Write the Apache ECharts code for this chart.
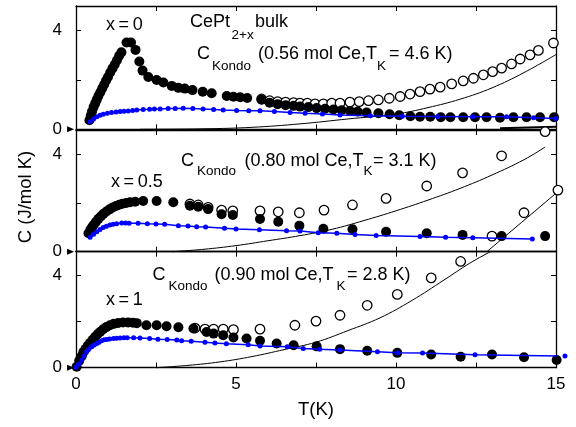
<!DOCTYPE html>
<html><head><meta charset="utf-8">
<script src="https://cdn.jsdelivr.net/npm/echarts@6/dist/echarts.min.js"></script>
<style>html,body{margin:0;padding:0;background:#fff}#c{width:576px;height:427px}</style>
</head><body><div id="c"></div>
<script>
const FONT = '"Liberation Sans", Arial, Helvetica, sans-serif';
const xTickLabels = [0, 5, 10, 15];
const yTickLabels = [0, 4];

// Panel x = 0
const x0Filled = [[0.42,0.37],[0.46,0.55],[0.5,0.72],[0.55,0.9],[0.6,1.05],[0.65,1.2],[0.7,1.35],[0.76,1.5],[0.82,1.66],[0.88,1.82],[0.94,1.98],[1.0,2.12],[1.07,2.3],[1.14,2.47],[1.21,2.63],[1.28,2.8],[1.35,2.98],[1.42,3.12],[1.58,3.52],[1.72,3.52],[1.86,3.22],[1.98,2.75],[2.08,2.38],[2.26,2.12],[2.52,2.0],[2.73,1.9],[2.99,1.76],[3.2,1.68],[3.4,1.65],[3.64,1.59],[3.96,1.52],[4.24,1.46],[4.71,1.35],[4.92,1.32],[5.13,1.3],[5.35,1.27],[5.8,1.2],[6.05,1.08],[6.3,1.02],[6.55,0.98],[6.8,0.95],[7.0,0.92],[7.26,0.9],[7.52,0.86],[7.78,0.83],[8.04,0.8],[8.3,0.77],[8.56,0.74],[8.8,0.72],[9.08,0.68],[9.45,0.65],[9.8,0.61],[10.1,0.57],[10.45,0.53],[10.75,0.51],[11.07,0.51],[11.4,0.49],[11.7,0.49],[12.1,0.49],[12.47,0.49],[12.83,0.49],[13.25,0.47],[13.67,0.49],[14.08,0.49],[14.5,0.49],[14.94,0.49]];
const x0Open = [[5.8,1.23],[6.05,1.16],[6.3,1.12],[6.55,1.1],[6.8,1.08],[7.0,1.06],[7.23,1.06],[7.47,1.03],[7.73,1.03],[7.99,1.06],[8.25,1.06],[8.56,1.1],[8.85,1.12],[9.14,1.16],[9.45,1.19],[9.79,1.26],[10.13,1.33],[10.44,1.43],[10.75,1.53],[11.06,1.63],[11.38,1.71],[11.74,1.84],[12.1,1.96],[12.42,2.07],[12.73,2.21],[13.02,2.34],[13.3,2.48],[13.61,2.65],[13.88,2.85],[14.19,3.02],[14.45,3.2],[14.92,3.5]];
const x0Blue = [[0.44,0.31],[0.55,0.42],[0.65,0.51],[0.75,0.57],[0.85,0.61],[0.98,0.65],[1.11,0.68],[1.25,0.7],[1.38,0.72],[1.5,0.73],[1.63,0.74],[1.77,0.76],[1.9,0.78],[2.1,0.8],[2.3,0.81],[2.45,0.82],[2.63,0.82],[2.88,0.84],[3.1,0.84],[3.35,0.85],[3.65,0.84],[3.97,0.82],[4.3,0.8],[4.6,0.78],[5.02,0.76],[5.4,0.75],[5.75,0.75],[6.2,0.72],[6.69,0.68],[7.16,0.65],[7.7,0.62],[8.25,0.58],[9.2,0.55],[10.2,0.53],[11.3,0.52],[12.4,0.51],[13.46,0.51],[14.3,0.47],[15.0,0.44]];
const x0Phonon = [[2,0],[4,0.02],[5.5,0.08],[7,0.22],[8.5,0.42],[10,0.62],[11,0.88],[12,1.22],[13,1.68],[14,2.3],[15,3.03]];
const x0Tail = [[13.25,0.04],[15,0.1]];

// Panel x = 0.5
const x05Filled = [[0.39,0.76],[0.45,0.9],[0.5,1.0],[0.55,1.1],[0.62,1.22],[0.7,1.35],[0.78,1.46],[0.86,1.56],[0.95,1.65],[1.05,1.74],[1.15,1.82],[1.25,1.88],[1.35,1.93],[1.45,1.97],[1.57,2.0],[1.69,2.03],[1.85,2.05],[2.1,2.08],[2.52,2.08],[3.04,2.03],[3.56,1.89],[3.82,1.85],[4.13,1.75],[4.55,1.54],[4.9,1.51],[5.75,1.34],[6.32,1.23],[6.98,1.07],[7.73,0.94],[8.64,0.92],[9.69,0.82],[10.96,0.76],[12.08,0.69],[13.3,0.64],[14.66,0.64]];
const x05Open = [[3.56,1.96],[3.82,1.92],[4.13,1.82],[4.55,1.71],[4.9,1.68],[5.75,1.68],[6.32,1.64],[6.98,1.6],[7.75,1.71],[8.64,1.92],[9.69,2.19],[10.96,2.7],[12.08,3.24],[13.3,3.94],[14.66,4.93],[13.0,0.64],[14.0,1.6],[15.06,2.53]];
const x05Blue = [[0.44,0.59],[0.55,0.72],[0.65,0.82],[0.75,0.91],[0.85,0.99],[0.95,1.05],[1.06,1.1],[1.16,1.13],[1.27,1.15],[1.43,1.18],[1.55,1.18],[1.66,1.17],[1.94,1.17],[2.23,1.15],[2.5,1.14],[2.77,1.13],[3.2,1.07],[3.5,1.06],[3.77,1.03],[4.05,1.01],[4.64,0.96],[5.0,0.93],[5.73,0.9],[6.58,0.86],[7.0,0.85],[7.57,0.78],[8.15,0.76],[8.72,0.71],[9.38,0.67],[10.75,0.62],[11.55,0.59],[12.4,0.57],[14.26,0.52]];
const x05Phonon = [[3.0,0],[4,0.1],[5,0.25],[6,0.45],[7,0.66],[8,0.92],[9,1.28],[10,1.68],[11,2.12],[12,2.6],[13,3.15],[14,3.78],[14.66,4.3]];
const x05Steep = [[12.84,0],[15,2.4]];

// Panel x = 1
const x1Filled = [[0.02,0.04],[0.1,0.3],[0.18,0.5],[0.23,0.67],[0.3,0.82],[0.37,0.95],[0.44,1.07],[0.52,1.2],[0.6,1.33],[0.68,1.45],[0.76,1.55],[0.85,1.66],[0.95,1.75],[1.06,1.83],[1.18,1.89],[1.32,1.93],[1.47,1.95],[1.63,1.95],[1.78,1.94],[1.9,1.92],[2.2,1.83],[2.52,1.83],[2.83,1.79],[3.2,1.74],[3.67,1.69],[4.08,1.54],[4.3,1.47],[4.6,1.4],[4.92,1.3],[5.33,1.26],[5.75,1.16],[6.27,1.04],[6.8,0.97],[7.52,0.92],[8.25,0.8],[9.1,0.73],[10.04,0.64],[11.1,0.57],[12.02,0.47],[13.0,0.57],[14.0,0.45],[15.02,0.33]];
const x1Open = [[3.72,1.71],[4.03,1.66],[4.3,1.66],[4.6,1.66],[4.92,1.64],[5.75,1.66],[6.84,1.83],[7.5,2.01],[8.25,2.26],[9.1,2.69],[10.04,3.16],[11.1,3.87],[12.02,4.58]];
const x1Blue = [[0,0.02],[0.08,0.15],[0.18,0.33],[0.25,0.5],[0.33,0.69],[0.4,0.8],[0.49,0.9],[0.57,0.98],[0.65,1.04],[0.72,1.1],[0.8,1.16],[0.88,1.2],[0.96,1.22],[1.05,1.24],[1.17,1.26],[1.27,1.27],[1.38,1.28],[1.5,1.29],[1.6,1.29],[1.8,1.29],[2.0,1.28],[2.3,1.26],[2.56,1.23],[2.85,1.22],[3.15,1.19],[3.3,1.16],[3.6,1.14],[4.03,1.1],[4.34,1.06],[4.7,1.03],[5.38,0.99],[5.75,0.94],[6.6,0.9],[7.1,0.83],[7.62,0.79],[8.25,0.76],[9.42,0.69],[10.04,0.64],[10.83,0.63],[12.47,0.56],[15.28,0.5]];
const x1Phonon = [[2.5,0],[3.5,0.1],[4.5,0.25],[5.5,0.48],[6.5,0.78],[7.5,1.1],[8.5,1.6],[9.5,2.15],[10.5,2.9],[11.5,3.78],[12.3,4.5],[12.95,5.0]];

const zeroMark = [[-0.17, 0]];

const grids = [
  {left:76, right:20, top:6, height:123.3},
  {left:76, right:20, top:130, height:121.7},
  {left:76, right:20, top:251.7, height:116}
];
const axisLineStyle = {show:true, onZero:false, lineStyle:{color:'#000', width:1.3}};
const tickStyle = {show:true, inside:true, length:5, lineStyle:{color:'#000', width:1}};
const xAxes = [], yAxes = [];
for (let i = 0; i < 3; i++) {
  xAxes.push({type:'value', gridIndex:i, position:'bottom', min:0, max:15, interval:2.5,
    axisLine:axisLineStyle, axisTick:tickStyle, splitLine:{show:false},
    axisLabel:{show:i===2, color:'#000', fontSize:17, fontFamily:FONT, margin:8,
      formatter:v => xTickLabels.includes(v) ? String(v) : ''}});
}
for (let i = 0; i < 3; i++) {
  xAxes.push({type:'value', gridIndex:i, position:'top', min:0, max:15, interval:2.5,
    axisLine:axisLineStyle, axisTick:tickStyle, splitLine:{show:false}, axisLabel:{show:false}});
}
for (let i = 0; i < 3; i++) {
  yAxes.push({type:'value', gridIndex:i, position:'left', min:0, max:5, interval:2,
    axisLine:axisLineStyle, axisTick:tickStyle, splitLine:{show:false},
    axisLabel:{color:'#000', fontSize:17, fontFamily:FONT, margin:14,
      formatter:v => yTickLabels.includes(v) ? String(v) : ''}});
}
for (let i = 0; i < 3; i++) {
  yAxes.push({type:'value', gridIndex:i, position:'right', min:0, max:5, interval:2,
    axisLine:axisLineStyle, axisTick:tickStyle, splitLine:{show:false}, axisLabel:{show:false}});
}

function curve(data, gi, w) {
  return {type:'line', xAxisIndex:gi, yAxisIndex:gi, data, smooth:0.4, symbol:'none', clip:false,
    lineStyle:{color:'#000', width:w||1}, z:2, silent:true};
}
function open(data, gi) {
  return {type:'scatter', xAxisIndex:gi, yAxisIndex:gi, data, symbol:'circle', symbolSize:9.5, clip:false,
    itemStyle:{color:'#fff', borderColor:'#000', borderWidth:1.3, opacity:1}, z:3};
}
function filled(data, gi) {
  return {type:'scatter', xAxisIndex:gi, yAxisIndex:gi, data, symbol:'circle', symbolSize:10, clip:false,
    itemStyle:{color:'#000', opacity:1}, z:4};
}
function blue(data, gi) {
  return {type:'line', xAxisIndex:gi, yAxisIndex:gi, data, symbol:'circle', symbolSize:5, showSymbol:true, showAllSymbol:true,
    clip:false, lineStyle:{color:'#0000ff', width:1.5}, itemStyle:{color:'#0000ff', borderWidth:0, opacity:1}, z:5};
}
function mark(gi) {
  return {type:'scatter', xAxisIndex:gi, yAxisIndex:gi, data:zeroMark, symbol:'triangle', symbolRotate:-90,
    symbolSize:[6,7], clip:false, itemStyle:{color:'#000', opacity:1}, z:6};
}

const series = [
  curve(x0Phonon,0), curve(x0Tail,0,2), open(x0Open,0), filled(x0Filled,0), blue(x0Blue,0), mark(0),
  curve(x05Phonon,1), curve(x05Steep,1), open(x05Open,1), filled(x05Filled,1), blue(x05Blue,1), mark(1),
  curve(x1Phonon,2), open(x1Open,2), filled(x1Filled,2), blue(x1Blue,2), mark(2)
];

function t(text, x, y, size, align) {
  return {type:'text', x, y, z:100,
    style:{text, fill:'#000', fontSize:size, fontFamily:FONT, align:align || 'left', verticalAlign:'middle'}};
}
const N = 18, S = 13.5;
const graphic = [
  t('x\u2009=\u20090', 106, 25, N),
  t('CePt', 190, 22, N), t('2+x', 231.5, 35, S), t('bulk', 255, 22, N),
  t('C', 197, 54, N), t('Kondo', 212, 66.7, S), t('(0.56 mol Ce,T', 258, 54, N), t('K', 377, 66.5, S), t('= 4.6 K)', 389, 54, N),

  t('C', 181, 161, N), t('Kondo', 197, 171.7, S), t('(0.80 mol Ce,T', 244.5, 161, N), t('K', 363.5, 171.7, S), t('= 3.1 K)', 373, 161, N),
  t('x\u2009=\u20090.5', 111, 181.7, N),

  t('C', 152.5, 275.5, N), t('Kondo', 168.5, 286.3, S), t('(0.90 mol Ce,T', 214.5, 275.5, N), t('K', 336.5, 286.3, S), t('= 2.8 K)', 347, 275.5, N),
  t('x\u2009=\u20091', 106, 299.7, N),

  {type:'text', x:26, y:197, rotation:Math.PI/2, z:100,
    style:{text:'C (J/mol K)', fill:'#000', fontSize:18.5, fontFamily:FONT, align:'center', verticalAlign:'middle'}},
  t('T(K)', 316, 410, 18.5, 'center')
];

const chart = echarts.init(document.getElementById('c'), null, {renderer:'canvas'});
chart.setOption({
  animation:false,
  backgroundColor:'#fff',
  grid:grids,
  xAxis:xAxes,
  yAxis:yAxes,
  series,
  graphic
});
</script>
</body></html>
